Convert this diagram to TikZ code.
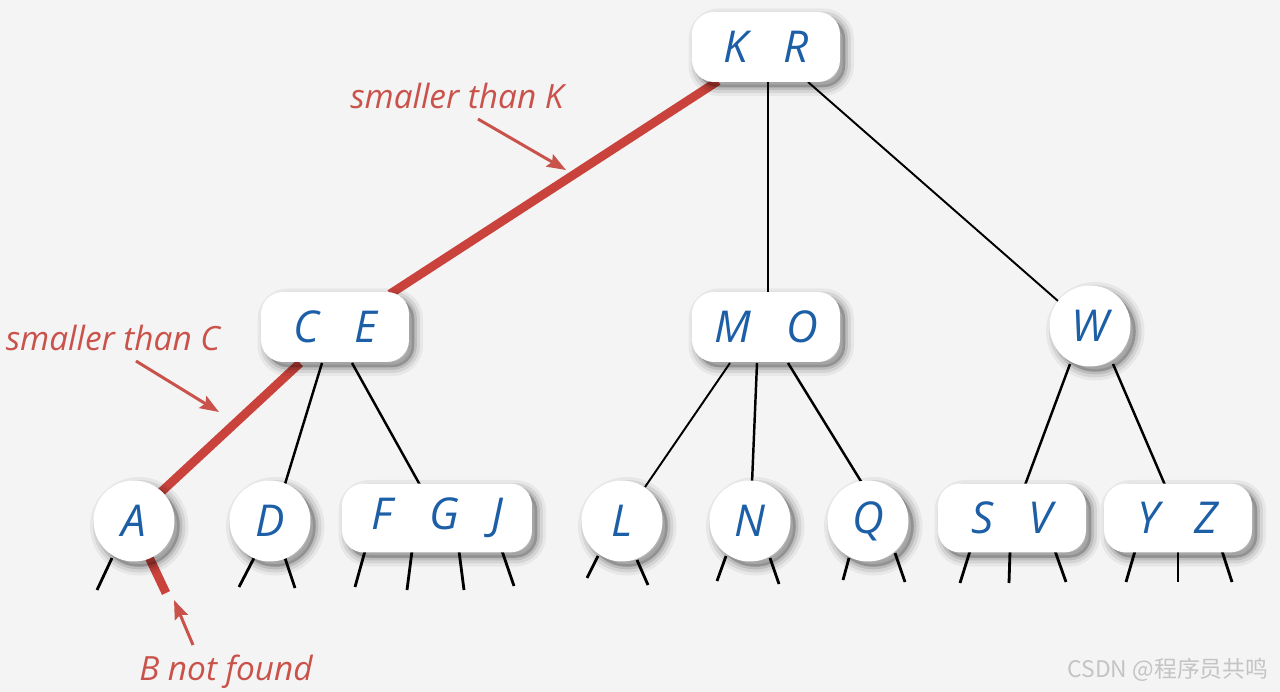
\documentclass[tikz,border=0pt]{standalone}
\usepackage{fontspec}
\setmainfont{Open Sans}
\newfontfamily\cjkfont{Noto Sans CJK SC}
\usetikzlibrary{shadows,calc,arrows.meta}
\definecolor{bgc}{HTML}{F4F4F4}
\definecolor{keyblue}{HTML}{1D5FA6}
\definecolor{pathred}{HTML}{C9433C}
\definecolor{labred}{HTML}{C9524B}
\definecolor{wmgray}{HTML}{C4C4C4}
\pgfdeclarelayer{back}
\pgfdeclarelayer{bg}
\pgfsetlayers{back,bg,main}
\tikzset{
  keyshadow/.style={
    general shadow={draw=black, draw opacity=0.05, line width=10pt, shadow xshift=3pt, shadow yshift=-3pt},
    general shadow={draw=black, draw opacity=0.08, line width=6.5pt, shadow xshift=3pt, shadow yshift=-3pt},
    general shadow={draw=black, draw opacity=0.11, line width=3pt, shadow xshift=3pt, shadow yshift=-3pt},
    general shadow={fill=black, fill opacity=0.22, shadow xshift=3pt, shadow yshift=-3pt}},
  keybox/.style={fill=white, rounded corners=0.44cm, minimum height=1.4cm, inner sep=0pt, keyshadow,
    font=\fontsize{25}{25}\selectfont\itshape, text=keyblue},
  keycirc/.style={circle, fill=white, minimum size=1.62cm, inner sep=0pt, keyshadow,
    font=\fontsize{25}{25}\selectfont\itshape, text=keyblue},
  edge/.style={line width=1.1pt, black},
  lowedge/.style={line width=1.4pt, black},
  stub/.style={line width=1.6pt, black},
  searchpath/.style={line width=5pt, pathred},
  redstub/.style={line width=5pt, pathred},
  note/.style={text=labred, font=\fontsize{19}{19}\selectfont\itshape},
  callout/.style={-{Stealth[length=0.38cm, width=0.28cm, inset=0.06cm]}, line width=1.7pt, labred}
}
\newcommand{\gap}{\hspace{0.7cm}}
\begin{document}
\begin{tikzpicture}[x=0.02cm,y=-0.02cm]
\begin{pgfonlayer}{back}
\fill[bgc] (0,0) rectangle (1280,692);
\end{pgfonlayer}
\useasboundingbox (0,0) rectangle (1280,692);

% nodes
\node[keybox, minimum width=2.96cm] (KR) at (766,47) {K\gap R};
\node[keybox, minimum width=2.96cm] (CE) at (335,327) {C\gap E};
\node[keybox, minimum width=2.96cm] (MO) at (766,327) {M\gap O};
\node[keycirc] (W) at (1090,326) {W};
\node[keycirc] (A) at (134,521) {A};
\node[keycirc] (D) at (270,521) {D};
\node[keybox, minimum width=3.8cm, minimum height=1.38cm] (FGJ) at (437,518) {F\hspace{0.74cm}G\hspace{0.64cm}J};
\node[keycirc] (L) at (622,521) {L};
\node[keycirc] (N) at (750,521) {N};
\node[keycirc] (Q) at (868,521) {Q};
\node[keybox, minimum width=2.96cm, minimum height=1.38cm] (SV) at (1012,518) {S\gap V};
\node[keybox, minimum width=2.96cm, minimum height=1.38cm] (YZ) at (1178,518) {Y\gap Z};

\begin{pgfonlayer}{bg}
% tree edges
\draw[searchpath] ($(KR)+(-48,34)$) -- ($(CE)+(55,-33)$);
\draw[edge] ($(KR)+(2,34)$) -- ($(MO)+(2,-34)$);
\draw[edge] ($(KR)+(42,35)$) -- ($(W)+(-32,-25)$);
\draw[searchpath] ($(CE)+(-35,36)$) -- ($(A)+(26,-28)$);
\draw[lowedge] ($(CE)+(-13,36)$) -- ($(D)+(15,-37)$);
\draw[lowedge] ($(CE)+(17,36)$) -- ($(FGJ)+(-17,-33)$);
\draw[edge] ($(MO)+(-36,36)$) -- ($(L)+(23,-34)$);
\draw[lowedge] ($(MO)+(-9,36)$) -- ($(N)+(2,-38)$);
\draw[lowedge] ($(MO)+(22,36)$) -- ($(Q)+(-6,-38)$);
\draw[lowedge] ($(W)+(-20,38)$) -- ($(SV)+(13,-33)$);
\draw[lowedge] ($(W)+(23,38)$) -- ($(YZ)+(-13,-33)$);

% null links below the leaves
\foreach \n/\sx/\sy/\dx/\dy [count=\i] in {
  A/-22/37/-15/32,
  D/-16/37/-15/29, D/15/37/10/30,
  FGJ/-72/33/-10/36, FGJ/-25/33/-5/39, FGJ/22/33/5/39, FGJ/65/33/12/35,
  L/-24/35/-11/22, L/15/39/11/25,
  N/-24/35/-9/25, N/20/37/9/26,
  Q/-19/37/-6/22, Q/27/32/10/29,
  SV/-42/33/-10/32, SV/-2/33/-1/32, SV/43/33/11/31,
  YZ/-43/33/-9/31, YZ/0/33/0/31, YZ/44/33/10/31} {
  \coordinate (nil\i) at ($(\n)+(\sx,\sy)+(\dx,\dy)$);
  \draw[stub] ($(\n)+(\sx,\sy)$) -- (nil\i);
}
\coordinate (nilB) at (166,593);
\draw[redstub] ($(A)+(14,34)$) -- (nilB);
\end{pgfonlayer}

% annotations
\node[note] (tK) at (457,96) {smaller than K};
\node[note] (tC) at (113,338) {smaller than C};
\node[note] (tB) at (226,672) {B not found};
\coordinate (aK) at (566,170);
\coordinate (aC) at (219,412);
\coordinate (aB) at (174,600);
\draw[callout] ($(tK.south)+(21,4)$) -- (aK);
\draw[callout] ($(tC.south)+(23,4)$) -- (aC);
\draw[callout] ($(tB.north)+(-33,-4)$) -- (aB);

% watermark
\node[text=wmgray, font=\cjkfont\fontsize{13}{13}\selectfont] (wm) at (1168,670) {CSDN @程序员共鸣};
\end{tikzpicture}
\end{document}
